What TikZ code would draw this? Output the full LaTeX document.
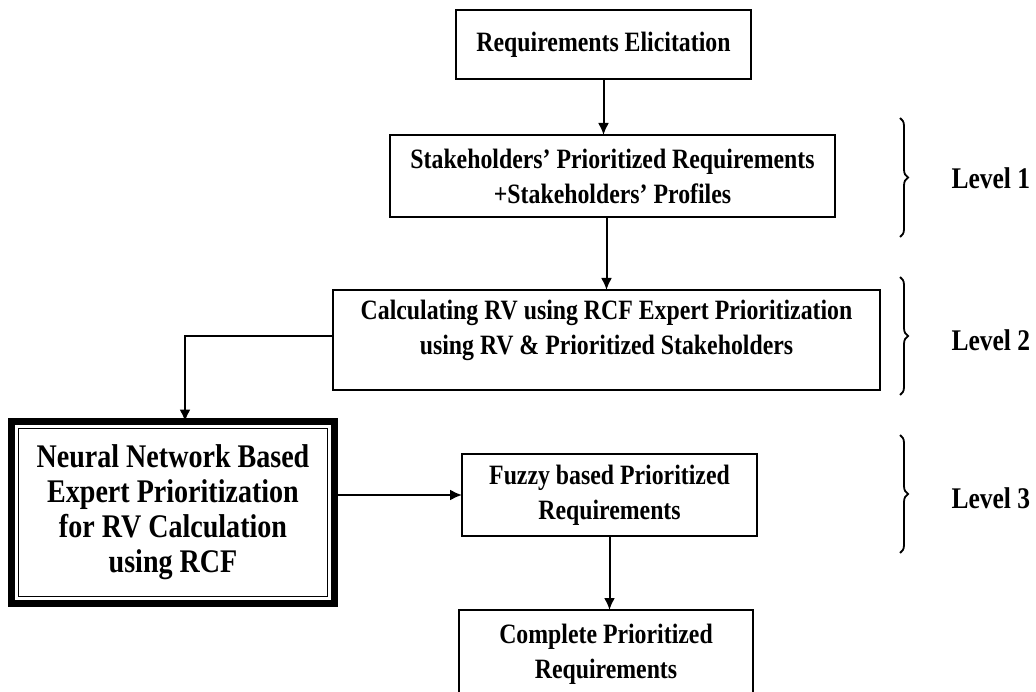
\documentclass[tikz,border=0pt]{standalone}
\usepackage{fontspec}
\setmainfont[FakeStretch=0.85]{Liberation Serif}
\usetikzlibrary{arrows.meta,decorations.pathreplacing}
\tikzset{
  box/.style={draw, line width=2.2pt, inner sep=0pt, outer sep=0pt, align=center,
    font=\bfseries\fontsize{28}{35}\selectfont},
  flow/.style={line width=2pt, -{Latex[length=12pt,width=11pt]}},
  brace/.style={decorate, decoration={brace, amplitude=8pt}, line width=1.8pt},
  level/.style={anchor=west, font=\bfseries\fontsize{30}{36}\selectfont},
}
\begin{document}
\begin{tikzpicture}[x=1pt, y=-1pt]
      \useasboundingbox (0,0) rectangle (1036,692);
      \node[box, minimum width=295, minimum height=69] (elic) at (603.5,44.5)
        {Requirements Elicitation};
      \node[box, minimum width=445, minimum height=82] (stake) at (612.5,176)
        {Stakeholders' Prioritized Requirements\\+Stakeholders' Profiles};
      \node[box, minimum width=547, minimum height=100, text depth=25pt] (calc) at (606.5,340)
        {Calculating RV using RCF Expert Prioritization\\using RV \& Prioritized Stakeholders};
      \node[box, line width=7pt, minimum width=323, minimum height=182,
        font=\bfseries\fontsize{33}{35}\selectfont] (nn) at (173,512.5)
        {Neural Network Based\\Expert Prioritization\\for RV Calculation\\using RCF};
      \draw[line width=1.5pt] ([shift={(7,7)}]nn.north west) rectangle ([shift={(-7,-7)}]nn.south east);
      \node[box, minimum width=295, minimum height=82] (fuzzy) at (609.5,495)
        {Fuzzy based Prioritized\\Requirements};
      \node[box, minimum width=294, minimum height=88] (compl) at (606,654)
        {Complete Prioritized\\Requirements};
      \begin{scope}[flow]
        \draw (elic.south) -- (elic.south |- stake.north);
        \draw (calc.north |- stake.south) -- (calc.north);
        \draw ([yshift=4pt]calc.west) -| ([xshift=12pt]nn.north);
        \draw (nn.east |- fuzzy.west) -- (fuzzy.west);
        \draw (fuzzy.south) -- (fuzzy.south |- compl.north);
      \end{scope}
      % levels
      \draw[brace] (900,118) -- (900,237);
      \draw[brace] (900,277) -- (900,395);
      \draw[brace] (900,435) -- (900,553);
      \node[level] (lev1) at (948,178) {Level 1};
      \node[level] (lev2) at (948,340) {Level 2};
      \node[level] (lev3) at (948,498) {Level 3};
    \end{tikzpicture}
\end{document}
